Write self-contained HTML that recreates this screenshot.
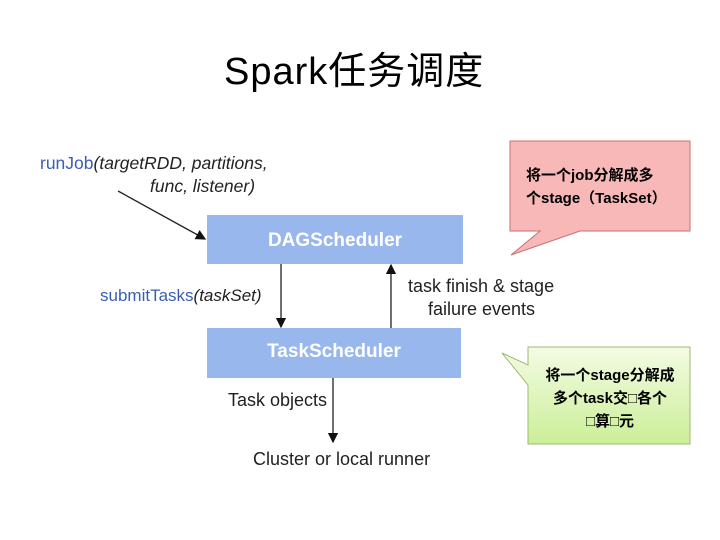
<!DOCTYPE html>
<html><head><meta charset="utf-8"><style>
body{margin:0;width:720px;height:540px;background:#fff;position:relative;overflow:hidden;font-family:"Liberation Sans","Noto Sans CJK SC",sans-serif}
.a{position:absolute;white-space:nowrap}
.t{font-size:19px;color:#222}
.b{position:absolute;background:#98b7ec;color:#fff;font-weight:bold;font-size:19px;text-align:center}
</style></head><body>
<div class="a" style="left:224px;top:40px;font-size:38px;color:#000;letter-spacing:1px">Spark任务调度</div>
<svg class="a" style="left:0;top:0" width="720" height="540">
<defs><marker id="m" markerWidth="8" markerHeight="8" refX="7" refY="4" orient="auto"><path d="M0,0 L8,4 L0,8 z" fill="#111"/></marker></defs>
<line x1="118" y1="191" x2="205" y2="239" stroke="#222" stroke-width="1.3" marker-end="url(#m)"/>
<line x1="281" y1="264" x2="281" y2="327" stroke="#222" stroke-width="1.3" marker-end="url(#m)"/>
<line x1="391" y1="328" x2="391" y2="265" stroke="#222" stroke-width="1.3" marker-end="url(#m)"/>
<line x1="333" y1="378" x2="333" y2="442" stroke="#222" stroke-width="1.3" marker-end="url(#m)"/>
<path d="M510,141 H690 V231 H580 L511,255 L540,231 H510 Z" fill="#f8b8b8" stroke="#c87070"/>
<linearGradient id="g" x1="0" y1="0" x2="0" y2="1"><stop offset="0" stop-color="#f4fbe4"/><stop offset="1" stop-color="#cbef98"/></linearGradient>
<path d="M528,347 H690 V444 H528 V385 L502,353 L528,365 Z" fill="url(#g)" stroke="#9cbb70"/>
</svg>
<div class="b" style="left:207px;top:215px;width:256px;height:49px;line-height:52px">DAGScheduler</div>
<div class="b" style="left:207px;top:328px;width:254px;height:50px;line-height:48px">TaskScheduler</div>
<div class="a t" style="left:40px;top:153px;font-size:17.5px"><span style="color:#3a5fb0">runJob</span><i>(targetRDD, partitions,</i></div>
<div class="a t" style="left:150px;top:176px;font-size:17.5px"><i>func, listener)</i></div>
<div class="a t" style="left:100px;top:286px;font-size:17px"><span style="color:#3a5fb0">submitTasks</span><i>(taskSet)</i></div>
<div class="a t" style="left:408px;top:276px;font-size:18px">task finish &amp; stage</div>
<div class="a t" style="left:428px;top:299px;font-size:18px">failure events</div>
<div class="a t" style="left:228px;top:390px;font-size:18px">Task objects</div>
<div class="a t" style="left:253px;top:449px;font-size:18px">Cluster or local runner</div>
<div class="a" style="left:526px;top:164px;font-size:15px;line-height:23px;color:#000;font-weight:bold">将一个job分解成多<br>个stage（TaskSet）</div>
<div class="a" style="left:530px;top:364px;width:160px;text-align:center;font-size:15px;line-height:23px;color:#000;font-weight:bold">将一个stage分解成<br>多个task交□各个<br>□算□元</div>
</body></html>
